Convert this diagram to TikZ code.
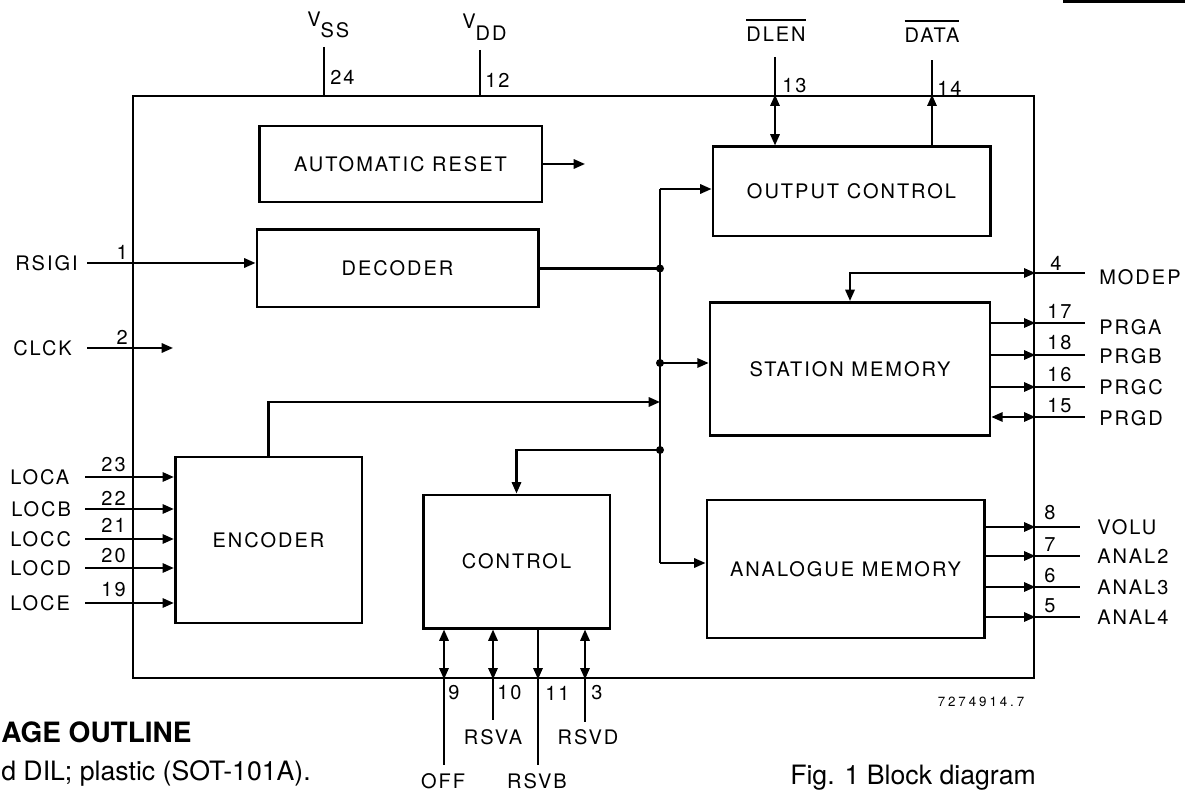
\documentclass[tikz,border=0pt]{standalone}
\usepackage{fontspec}
\setmainfont{TeX Gyre Heros}[LetterSpace=10]
\newfontfamily\notefont{TeX Gyre Heros}
\newfontfamily\tinyfont{TeX Gyre Heros}[LetterSpace=22]
\usetikzlibrary{arrows.meta,positioning}
\newcommand{\ovl}[1]{\setbox0\hbox{#1}\rlap{\raisebox{16pt}{\rule{\wd0}{0.9pt}}}\box0}
\tikzset{
  block/.style={draw,line width=2pt,align=center,inner sep=0pt},
  arr/.style={-{Triangle[length=8.5pt,width=7pt]},line width=1.6pt},
  darr/.style={{Triangle[length=8.5pt,width=7pt]}-{Triangle[length=8.5pt,width=7pt]},line width=1.6pt},
  wire/.style={line width=1.6pt},
  sig/.style={inner sep=0pt},
  pinnum/.style={inner sep=0pt},
  junc/.style={circle,fill,inner sep=0pt,minimum size=6pt},
}

\begin{document}
\begin{tikzpicture}[x=0.75pt,y=-0.75pt,font=\fontsize{15}{18}\selectfont]
\useasboundingbox (0,0) rectangle (1185,791);
\clip (0,0) rectangle (1185,791);
% chip outline and blocks
\node[draw,line width=2pt,minimum width=675.75pt,minimum height=436.5pt] (chip) at (583.5,387) {};
\node[block,minimum width=212pt,minimum height=57pt] (areset) at (400.5,164) {AUTOMATIC RESET};
\node[block,minimum width=211pt,minimum height=58pt] (decoder) at (397.5,268.5) {DECODER};
\node[block,minimum width=208pt,minimum height=67pt] (ocont) at (851.5,191.5) {OUTPUT CONTROL};
\node[block,minimum width=210pt,minimum height=100pt] (station) at (850,369) {STATION MEMORY};
\node[block,minimum width=208pt,minimum height=103.5pt] (analog) at (845.5,569) {ANALOGUE MEMORY};
\node[block,minimum width=140pt,minimum height=124.5pt] (encoder) at (268.5,540) {ENCODER};
\node[block,minimum width=140pt,minimum height=100pt] (control) at (516.5,561.5) {CONTROL};
\draw[line width=3pt] (1063,1) -- (1185,1);

% supply and top pins
\coordinate (vssin) at (324,47);
\coordinate (vddin) at (480,50);
\coordinate (dlenin) at (775,57);
\coordinate (dataout) at (932,60);
\node[sig,anchor=base west] (vss) at (307,27) {V\raisebox{-8pt}{SS}};
\node[sig,anchor=base west] (vdd) at (462,29) {V\raisebox{-9pt}{DD}};
\node[sig,anchor=base] (dlen) at (776,42) {\ovl{DLEN}};
\node[sig,anchor=base] (data) at (932,43) {\ovl{DATA}};
\node[pinnum,anchor=west] (n24) at (330,77) {24};
\node[pinnum,anchor=west] (n12) at (485,80) {12};
\node[pinnum,anchor=west] (n13) at (782,86) {13};
\node[pinnum,anchor=west] (n14) at (937,88) {14};
\draw[wire] (vssin) -- (chip.north -| vssin);
\draw[wire] (vddin) -- (chip.north -| vddin);
\draw[wire] (dlenin) -- (chip.north -| dlenin);
\draw[darr] (chip.north -| dlenin) -- (ocont.north -| dlenin);
\draw[arr] (ocont.north -| dataout) -- (chip.north -| dataout);
\draw[wire] (chip.north -| dataout) -- (dataout);

% left pins
\coordinate (rsigiin) at (87,263);
\coordinate (clckin) at (87,348);
\coordinate (clckout) at (173,348);
\coordinate (locain) at (85,477);
\coordinate (locbin) at (85,509);
\coordinate (loccin) at (85,539);
\coordinate (locdin) at (85,568);
\coordinate (locein) at (85,603);
\node[sig,anchor=west] (rsigi) at (15,263) {RSIGI};
\node[sig,anchor=west] (clck) at (13,348) {CLCK};
\node[sig,anchor=west] (loca) at (10,477) {LOCA};
\node[sig,anchor=west] (locb) at (11,509) {LOCB};
\node[sig,anchor=west] (locc) at (10,539) {LOCC};
\node[sig,anchor=west] (locd) at (10,568) {LOCD};
\node[sig,anchor=west] (loce) at (10,603) {LOCE};
\node[pinnum,anchor=east] (n1) at (128,252) {1};
\node[pinnum,anchor=east] (n2) at (128,337) {2};
\node[pinnum,anchor=east] (n23) at (126,465) {23};
\node[pinnum,anchor=east] (n22) at (126,498) {22};
\node[pinnum,anchor=east] (n21) at (126,525) {21};
\node[pinnum,anchor=east] (n20) at (126,556) {20};
\node[pinnum,anchor=east] (n19) at (126,590) {19};
\draw[arr] (rsigiin) -- (decoder.west |- rsigiin);
\draw[arr] (clckin) -- (clckout);
\draw[arr] (locain) -- (encoder.west |- locain);
\draw[arr] (locbin) -- (encoder.west |- locbin);
\draw[arr] (loccin) -- (encoder.west |- loccin);
\draw[arr] (locdin) -- (encoder.west |- locdin);
\draw[arr] (locein) -- (encoder.west |- locein);

% internal bus
\coordinate (resetout) at (585,164);
\coordinate (jtop) at (660,189);
\coordinate (jdec) at (decoder.east -| jtop);
\coordinate (jsta) at (660,363);
\coordinate (jenc) at (660,402);
\coordinate (jctl) at (660,450);
\coordinate (jbot) at (660,563);
\draw[arr] (areset.east) -- (resetout);
\draw[wire] (jtop) -- (jbot);
\draw[arr] (jtop) -- (ocont.west |- jtop);
\draw[wire] (decoder.east) -- (jdec);
\draw[arr] (jsta) -- (station.west |- jsta);
\draw[arr] (encoder.north) |- (jenc);
\draw[arr] (jctl) -| (control.north);
\draw[arr] (jbot) -- (analog.west |- jbot);
\node[junc] (d1) at (jdec) {};
\node[junc] (d2) at (jsta) {};
\node[junc] (d3) at (jctl) {};

% right pins
\coordinate (modepout) at (1085,273);
\coordinate (prgaout) at (1085,323);
\coordinate (prgbout) at (1085,355);
\coordinate (prgcout) at (1085,387);
\coordinate (prgdout) at (1085,417);
\coordinate (voluout) at (1080,527);
\coordinate (analtwo) at (1080,556);
\coordinate (analthree) at (1080,587);
\coordinate (analfour) at (1080,617);
\draw[darr] (station.north) |- (chip.east |- modepout);
\draw[wire] (chip.east |- modepout) -- (modepout);
\draw[arr] (station.east |- prgaout) -- (chip.east |- prgaout);
\draw[wire] (chip.east |- prgaout) -- (prgaout);
\draw[arr] (station.east |- prgbout) -- (chip.east |- prgbout);
\draw[wire] (chip.east |- prgbout) -- (prgbout);
\draw[arr] (station.east |- prgcout) -- (chip.east |- prgcout);
\draw[wire] (chip.east |- prgcout) -- (prgcout);
\draw[darr] (station.east |- prgdout) -- (chip.east |- prgdout);
\draw[wire] (chip.east |- prgdout) -- (prgdout);
\draw[arr] (analog.east |- voluout) -- (chip.east |- voluout);
\draw[wire] (chip.east |- voluout) -- (voluout);
\draw[arr] (analog.east |- analtwo) -- (chip.east |- analtwo);
\draw[wire] (chip.east |- analtwo) -- (analtwo);
\draw[arr] (analog.east |- analthree) -- (chip.east |- analthree);
\draw[wire] (chip.east |- analthree) -- (analthree);
\draw[arr] (analog.east |- analfour) -- (chip.east |- analfour);
\draw[wire] (chip.east |- analfour) -- (analfour);
\node[pinnum,anchor=west] (n4) at (1050,263) {4};
\node[pinnum,anchor=west] (n17) at (1047,311) {17};
\node[pinnum,anchor=west] (n18) at (1047,343) {18};
\node[pinnum,anchor=west] (n16) at (1047,375) {16};
\node[pinnum,anchor=west] (n15) at (1047,406) {15};
\node[pinnum,anchor=west] (n8) at (1044,513) {8};
\node[pinnum,anchor=west] (n7) at (1044,545) {7};
\node[pinnum,anchor=west] (n6) at (1044,576) {6};
\node[pinnum,anchor=west] (n5) at (1044,606) {5};
\node[sig,anchor=west] (modep) at (1099,277) {MODEP};
\node[sig,anchor=west] (prga) at (1099,327) {PRGA};
\node[sig,anchor=west] (prgb) at (1099,356) {PRGB};
\node[sig,anchor=west] (prgc) at (1099,387) {PRGC};
\node[sig,anchor=west] (prgd) at (1099,418) {PRGD};
\node[sig,anchor=west] (volu) at (1097,527) {VOLU};
\node[sig,anchor=west] (anal2) at (1097,556) {ANAL2};
\node[sig,anchor=west] (anal3) at (1097,587) {ANAL3};
\node[sig,anchor=west] (anal4) at (1097,617) {ANAL4};

% bottom pins
\coordinate (offin) at (444,765);
\coordinate (rsvain) at (493,720);
\coordinate (rsvbout) at (538,765);
\coordinate (rsvdin) at (585,722);
\draw[darr] (control.south -| offin) -- (chip.south -| offin);
\draw[wire] (chip.south -| offin) -- (offin);
\draw[darr] (control.south -| rsvain) -- (chip.south -| rsvain);
\draw[wire] (chip.south -| rsvain) -- (rsvain);
\draw[arr] (control.south -| rsvbout) -- (chip.south -| rsvbout);
\draw[wire] (chip.south -| rsvbout) -- (rsvbout);
\draw[darr] (control.south -| rsvdin) -- (chip.south -| rsvdin);
\draw[wire] (chip.south -| rsvdin) -- (rsvdin);
\node[pinnum,anchor=west] (n9) at (448,693) {9};
\node[pinnum,anchor=west] (n10) at (497,693) {10};
\node[pinnum,anchor=west] (n11) at (545,693) {11};
\node[pinnum,anchor=west] (n3) at (591,693) {3};
\node[sig] (rsva) at (493,737) {RSVA};
\node[sig] (rsvd) at (588,737) {RSVD};
\node[sig,anchor=base] (off) at (443,788) {OFF};
\node[sig,anchor=base] (rsvb) at (537,788) {RSVB};

% drawing number and page text
\node[sig] (drawno) at (981,702) {\tinyfont\fontsize{10}{12}\selectfont 7274914.7};
\node[sig,anchor=base west] (outline) at (1,742) {\notefont\fontsize{21}{25}\selectfont\bfseries AGE OUTLINE};
\node[sig,anchor=base west] (dil) at (1,780) {\notefont\fontsize{20}{24}\selectfont d DIL; plastic (SOT-101A).};
\node[sig,anchor=base west] (fig) at (790,784) {\notefont\fontsize{20}{24}\selectfont Fig. 1 Block diagram};
\end{tikzpicture}
\end{document}
